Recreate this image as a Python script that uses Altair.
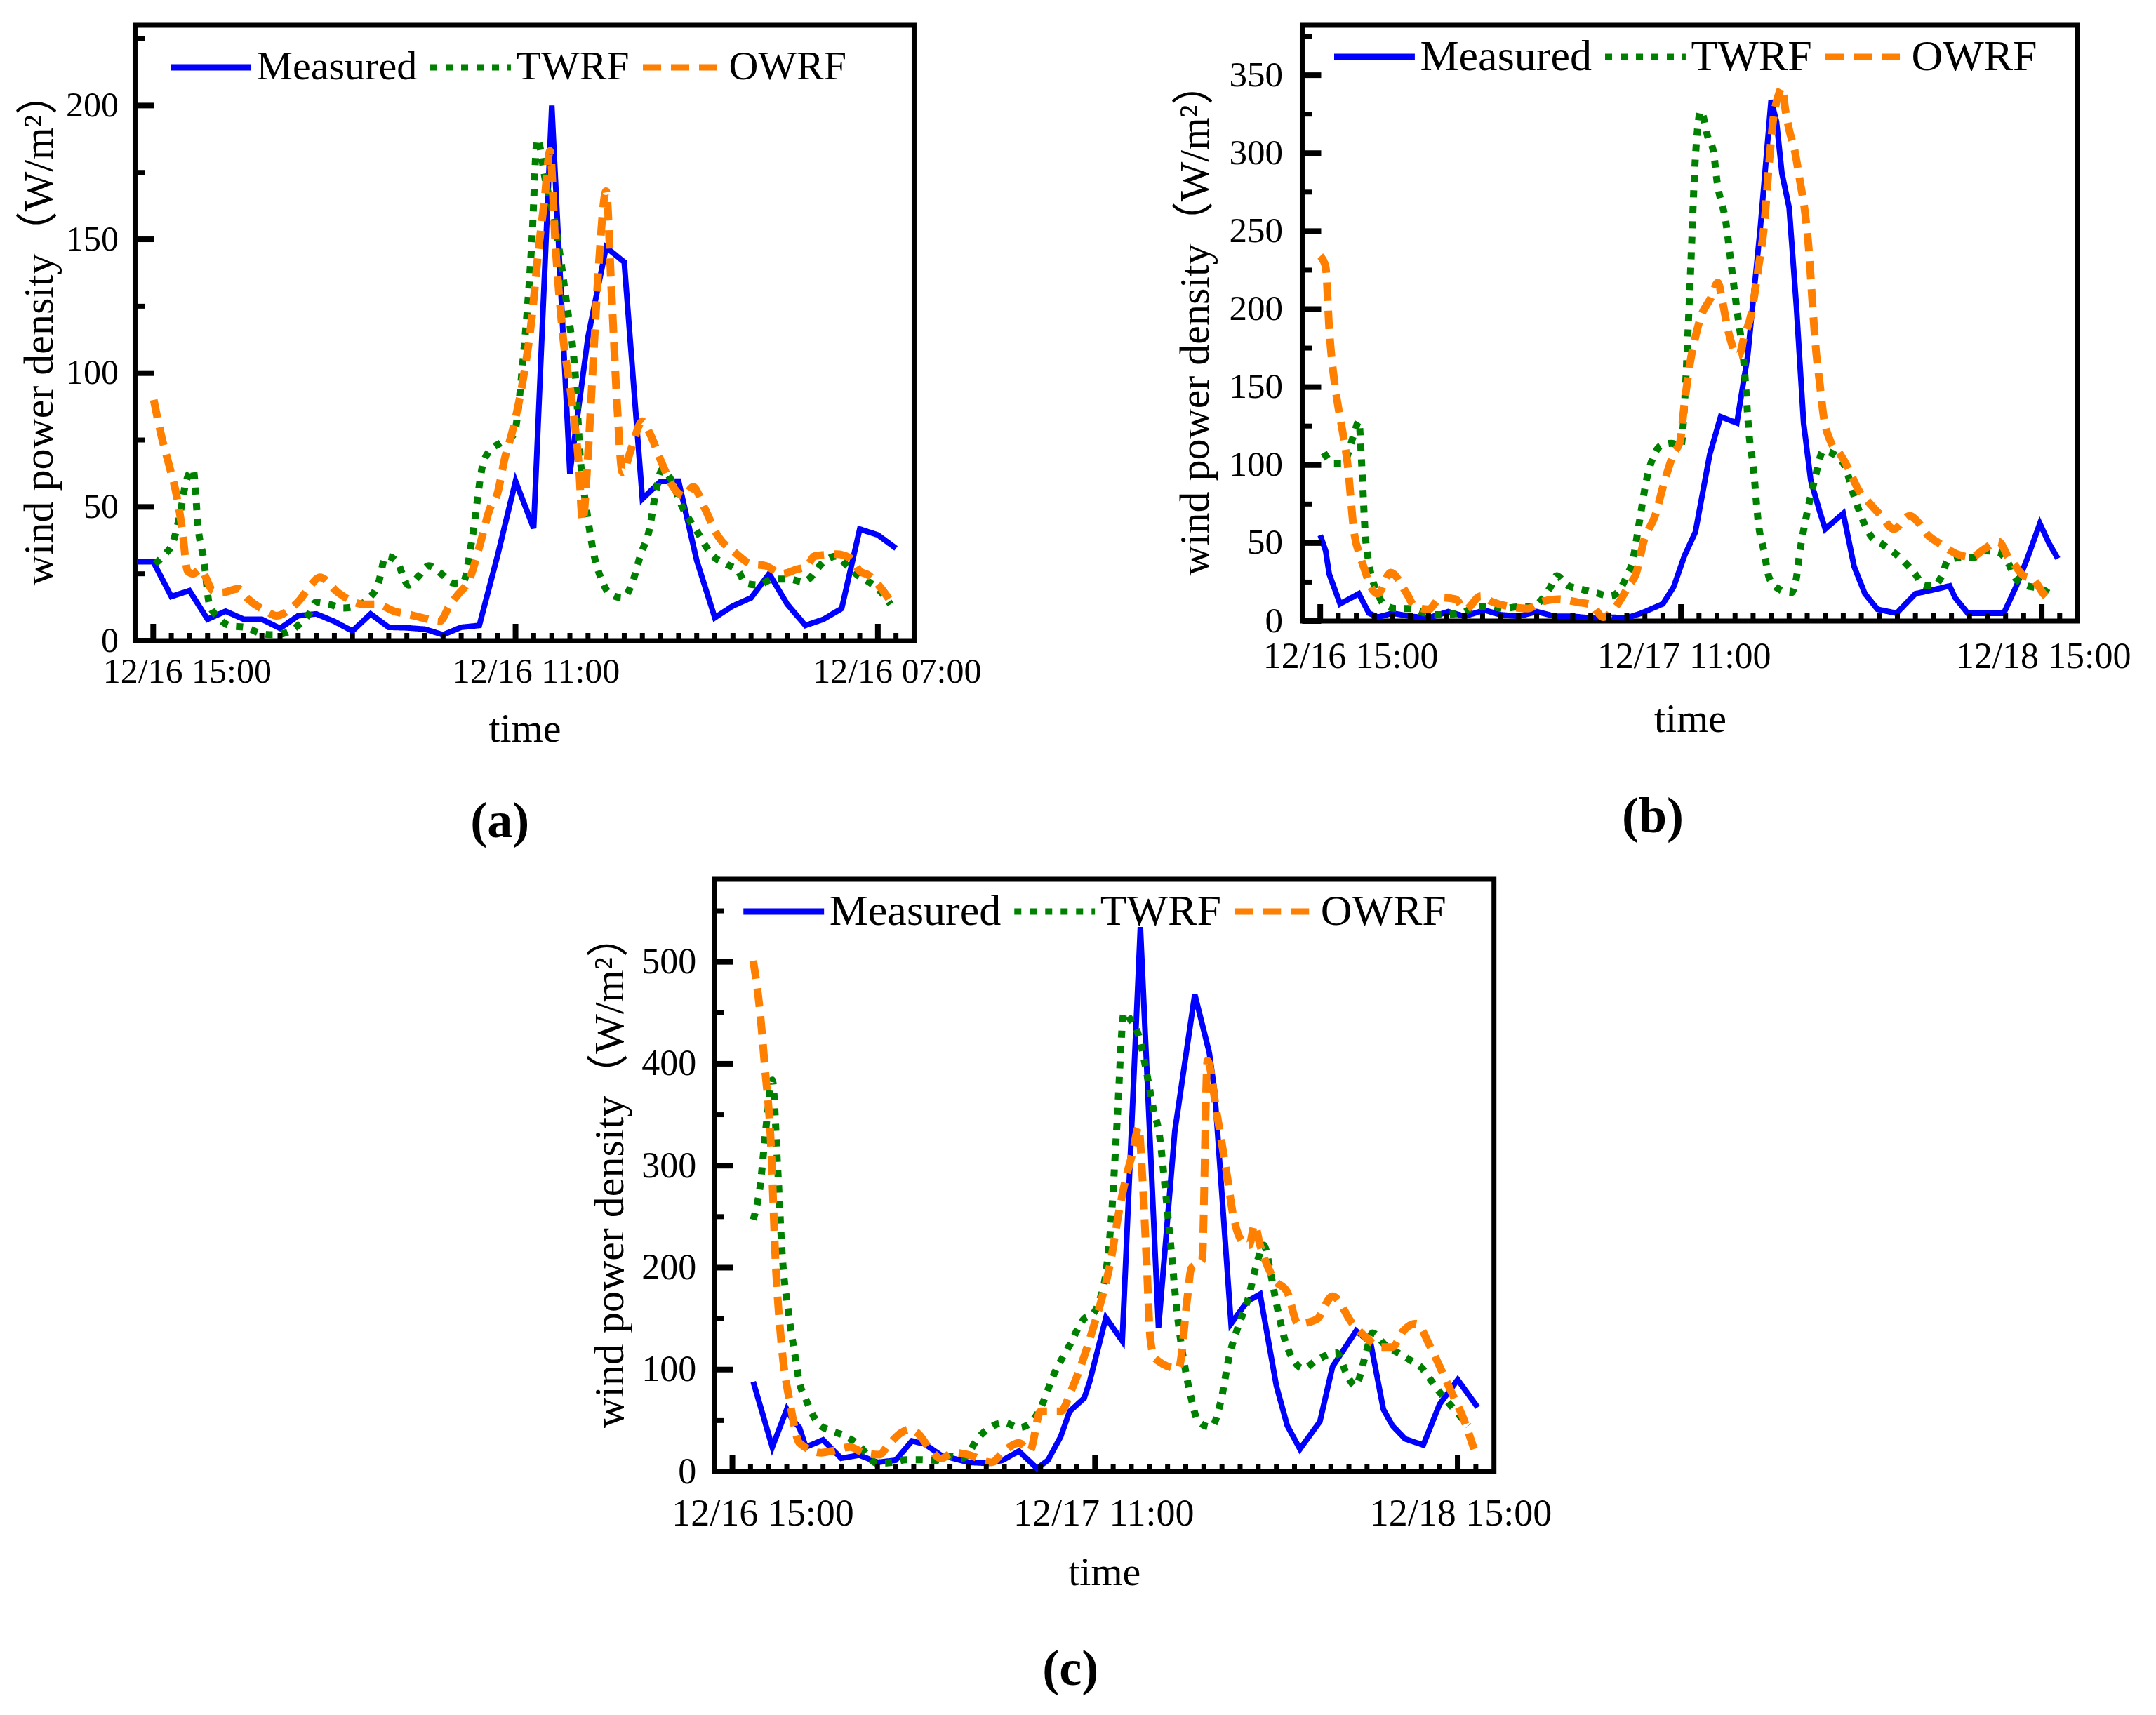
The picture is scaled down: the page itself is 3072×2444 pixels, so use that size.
import altair as alt
import pandas as pd

FONT = "Liberation Serif, Noto Sans CJK SC"
SERIES = ["Measured", "TWRF", "OWRF"]
COLORS = ["#0000FF", "#008000", "#FF7F00"]
DASHES = [[1, 0], [10, 12], [26, 14]]
WIDTHS = [8, 10, 11]
Y_TITLE = "wind power density（W/m²）"

# ---------- x tick labels (index axis, majors at 0 / 20 / 40) ----------
XLAB_A = ["12/16 15:00", "12/16 11:00", "12/16 07:00"]
XLAB_B = ["12/16 15:00", "12/17 11:00", "12/18 15:00"]
XLAB_C = ["12/16 15:00", "12/17 11:00", "12/18 15:00"]
X_MAJOR = [0, 20, 40]
X_MINOR = [i for i in range(1, 42) if i not in X_MAJOR]

# ---------- panel (a) ----------
MEAS_A_T = [-0.9] + list(range(0, 42))
MEAS_A_V = [29.5, 29.5, 16.5, 18.7, 8, 11, 8, 8, 4.6, 9.3, 10, 7.2, 3.6, 10, 5, 4.8,
            4.3, 2.2, 5, 5.7, 31.6, 59.6, 42, 200, 62.5, 113.5, 147, 141.5, 53, 59.5,
            59.6, 30, 8.6, 13, 16, 25, 13.6, 5.7, 8, 12, 41.7, 39.5, 34.5]
TWRF_A_T = [0.1, 0.6, 1.1, 1.5, 1.8, 2.2, 2.5, 2.8, 3.1, 3.6, 4.3, 5.1, 5.85, 6.6, 7.3,
            8.0, 8.6, 9.0, 9.7, 10.5, 11.2, 11.9, 12.4, 12.85, 13.4, 14.1, 14.6, 15.2,
            15.9, 16.6, 17.1, 17.6, 18.2, 18.5, 19.2, 19.9, 20.4, 20.9, 21.2, 21.65,
            22.2, 22.8, 23.3, 23.6, 23.9, 24.3, 24.8, 25.2, 25.9, 26.4, 26.9, 27.4,
            27.7, 28.1, 28.6, 29.2, 30.0, 30.9, 31.6, 32.3, 32.7, 33.4, 34.2, 35.1,
            35.9, 37.1, 37.7, 38.3, 38.9, 39.6, 40.2, 40.7]
TWRF_A_V = [28.7, 32, 37, 48, 59, 64, 41, 30, 13.6, 8.6, 5.5, 5, 2.9, 2.2, 2.9, 5.7,
            10, 14.4, 13.6, 12.2, 13, 15.8, 20.8, 31.6, 30, 20.8, 23.7, 28, 25, 21.5,
            21.8, 38, 66, 70.4, 74, 77, 104, 149, 187.5, 172, 155, 127, 99, 66, 50,
            33, 22, 17.5, 16, 20.8, 32, 42, 54, 64, 60, 50, 41, 31.6, 28.7, 25.9,
            21.5, 20.8, 23, 23, 22, 30, 31.6, 28, 24.4, 21.5, 18, 13.6]
OWRF_A_T = [0.03, 0.47, 0.9, 1.3, 1.6, 1.9, 2.2, 2.6, 3.3, 3.8, 4.7, 5.2, 6.3, 6.8,
            7.5, 8.06, 8.7, 9.2, 10.2, 10.9, 11.6, 12.3, 13.4, 14.0, 15.0, 15.8, 16.4,
            16.8, 17.5, 18.0, 18.6, 19.0, 19.4, 19.8, 20.4, 20.9, 21.25, 21.6, 21.9,
            22.2, 22.6, 23.1, 23.5, 23.7, 24.0, 24.3, 24.6, 25.0, 25.3, 25.6, 25.9,
            26.4, 27.0, 27.4, 28.1, 28.7, 29.3, 29.8, 30.4, 31.2, 32.1, 33.0, 33.8,
            34.7, 35.5, 36.1, 36.5, 37.7, 38.45, 39.0, 39.5, 40.2, 40.8]
OWRF_A_V = [90, 76, 65, 54, 41.7, 26, 25, 26.6, 18.7, 18, 19.4, 15.8, 10.8, 9.3, 11.5,
            15, 20.8, 23.7, 18, 15, 13.6, 13.6, 10.8, 10, 8.3, 7.2, 13.6, 17, 23.7,
            35, 49.6, 55, 68, 77.6, 97, 120.7, 145, 165, 183, 148, 115, 90, 65, 44.5,
            69.7, 106, 141, 168, 130, 89, 63, 72, 82, 77.6, 66, 57.5, 54, 57.5, 50,
            38.8, 33, 28.7, 28, 25, 26.6, 28, 31.6, 32.3, 31, 26, 24.4, 19.4, 13.6]

# ---------- panel (b) ----------
MEAS_B_T = [0, 0.3, 0.5, 1.1, 2.14, 2.7, 3.2, 4.0, 5.0, 6.0, 7.1, 8.0, 9.1, 10.0, 11.0,
            12.0, 13.0, 14.0, 15.0, 16.0, 17.0, 17.8, 19.0, 19.6, 20.2, 20.8, 21.6,
            22.2, 23.1, 23.7, 24.4, 25.0, 25.3, 25.6, 26.0, 26.4, 26.8, 27.2, 27.7,
            28.0, 29.0, 29.6, 30.2, 30.9, 31.96, 33.0, 34.0, 34.9, 35.2, 35.9, 37.9,
            38.6, 39.2, 39.9, 40.4, 40.9]
MEAS_B_V = [55, 45, 30, 11, 17.5, 5, 2.5, 5, 3, 2, 6, 3, 7, 4, 3, 6, 3, 3, 2, 2.5, 2,
            5, 11, 22, 42, 57, 107, 131, 127, 170, 252, 334, 320, 287, 265, 202, 127,
            90, 70, 59, 69, 35, 17.5, 7.5, 5, 17.5, 20, 22.5, 15, 5, 5, 22.5, 40,
            62.5, 50, 40]
TWRF_B_T = [0.2, 0.74, 1.26, 1.85, 2.14, 2.3, 2.5, 2.7, 3.2, 3.5, 4.2, 5.0, 5.7, 6.4,
            7.8, 8.6, 9.4, 10.2, 10.9, 11.75, 12.3, 12.8, 13.1, 13.7, 14.6, 15.3, 16.1,
            16.6, 17.0, 17.3, 17.7, 18.1, 18.55, 18.9, 19.5, 20.0, 20.2, 20.5, 20.8,
            21.1, 21.5, 21.8, 22.0, 22.5, 22.8, 23.1, 23.5, 23.8, 24.0, 24.3, 24.6,
            24.9, 25.5, 26.1, 26.4, 26.6, 26.9, 27.4, 27.9, 28.6, 29.1, 29.6, 30.5,
            31.2, 31.8, 33.0, 33.5, 34.0, 34.5, 34.8, 35.8, 36.3, 36.9, 37.6, 38.2,
            38.5, 39.2, 39.9, 40.6]
TWRF_B_V = [108, 101, 101, 119, 128, 100, 55, 37, 17.5, 11, 8, 8, 5.5, 4, 5, 9, 9.5,
            8, 9, 9, 14, 22.5, 29, 23, 20, 18, 16, 20, 29, 37.5, 64, 91, 107.5, 112.5,
            114, 112, 140, 215, 297, 327, 310, 301, 282, 255, 227, 200, 164, 117, 100,
            62, 45, 27.5, 20, 18, 27.5, 45, 64, 90, 109, 106, 99, 80, 55, 49, 44, 30,
            22.5, 22.5, 30, 39, 41, 41, 45, 44, 36, 28, 22.5, 21, 16]
OWRF_B_T = [0, 0.3, 0.5, 0.8, 1.0, 1.26, 1.5, 1.9, 2.2, 2.4, 2.9, 3.2, 3.9, 4.8, 5.2,
            6.0, 6.7, 7.5, 8.05, 8.9, 9.5, 10.6, 11.5, 12.3, 13.2, 14.3, 15.0, 15.7,
            16.5, 17.1, 17.5, 17.96, 18.55, 19.1, 19.6, 19.95, 20.2, 20.5, 20.8, 21.1,
            21.65, 22.05, 22.3, 22.6, 23.2, 23.5, 23.9, 24.3, 24.6, 24.9, 25.1, 25.4,
            25.6, 25.8, 26.0, 26.3, 26.6, 26.9, 27.1, 27.3, 27.5, 27.7, 27.9, 28.3,
            28.8, 29.3, 29.8, 30.5, 31.1, 31.8, 32.7, 33.1, 33.7, 34.3, 35.4, 36.1,
            36.8, 37.6, 38.2, 38.5, 38.9, 39.6, 40.1, 40.6]
OWRF_B_V = [234, 227, 187, 152, 137, 120, 102, 55, 42, 35, 20, 17.5, 31, 17.5, 10, 7.5,
            15, 14, 7.5, 16, 12.5, 9, 8, 12.5, 14, 12, 10.5, 2.5, 11, 22.5, 30, 52, 67,
            90, 107.5, 115, 140, 165, 182, 195, 207, 217, 205, 187, 170, 182, 197, 227,
            252, 295, 320, 337, 342, 327, 315, 302, 282, 260, 237, 202, 172, 152, 132,
            115, 107.5, 97.5, 85, 75, 67.5, 59, 67.5, 64, 55, 50, 42.5, 41, 46, 51, 40,
            36, 30, 26, 17.5, 12.5]

# ---------- panel (c) ----------
MEAS_C_T = [1.15, 2.2, 3.0, 3.3, 3.7, 4.05, 5.0, 6.0, 7.0, 8.0, 9.0, 9.9, 10.6, 11.5,
            13.0, 14.1, 14.9, 15.8, 16.8, 17.4, 18.1, 18.6, 19.4, 19.7, 20.6, 21.5,
            22.5, 23.5, 24.4, 25.5, 26.3, 26.6, 27.5, 28.4, 29.1, 30.0, 30.6, 31.3,
            32.4, 33.1, 34.4, 35.2, 35.9, 36.4, 37.1, 38.1, 39.0, 40.0, 41.1]
MEAS_C_V = [88, 24, 61, 51, 43, 24, 31, 13, 16, 9, 11, 30, 27, 16, 9, 8, 11, 20, 3, 11,
            34, 59, 72, 88, 151, 128, 534, 141, 334, 468, 411, 372, 145, 167, 174, 84,
            45, 22, 49, 103, 138, 126, 61, 45, 32, 26, 66, 90, 63]
TWRF_C_T = [1.15, 1.5, 1.9, 2.2, 2.5, 2.75, 3.1, 3.46, 3.7, 4.0, 4.74, 5.45, 6.2, 6.9,
            8.0, 8.8, 9.6, 10.4, 11.2, 11.9, 12.7, 13.6, 14.2, 15.0, 15.8, 16.4, 16.9,
            17.8, 18.6, 19.4, 19.9, 20.25, 20.6, 20.9, 21.2, 21.6, 22.0, 22.4, 22.9,
            23.2, 23.55, 23.9, 24.2, 24.5, 24.95, 25.25, 25.7, 26.4, 26.95, 27.4,
            27.85, 28.4, 29.0, 29.3, 29.7, 30.0, 30.6, 31.5, 32.2, 33.3, 33.98, 34.35,
            34.9, 35.3, 36.0, 36.7, 37.4, 38.05, 38.5, 39.0, 40.0, 40.6]
TWRF_C_V = [247, 276, 345, 384, 297, 212, 155, 113, 87, 73, 47, 40, 35, 27, 8, 9, 11.5,
            11.5, 11, 15, 13, 34, 43, 48, 43, 47, 59, 98, 124, 150, 155, 168, 195, 249,
            338, 450, 442, 428, 386, 357, 330, 272, 217, 160, 103, 76, 49, 43.5, 70,
            113, 140, 167, 209, 222, 193, 165, 122, 101, 109, 116.5, 91.5, 84, 113,
            136, 124, 116.5, 109, 101, 90, 78, 57, 45]
OWRF_C_T = [1.15, 1.5, 1.8, 2.1, 2.4, 2.7, 3.2, 3.7, 4.9, 5.45, 6.5, 7.2, 8.1, 8.6, 9.3,
            9.8, 10.2, 10.9, 11.5, 12.2, 13.0, 14.3, 14.9, 15.8, 16.4, 17.0, 18.1,
            18.7, 19.4, 19.9, 20.3, 20.9, 21.3, 21.65, 22.1, 22.4, 22.6, 22.85, 23.05,
            23.3, 24.6, 25.1, 25.3, 25.9, 26.2, 26.7, 27.3, 27.6, 28.1, 28.5, 28.8,
            29.1, 29.9, 30.6, 31.2, 32.2, 33.1, 34.2, 34.8, 35.8, 36.4, 37.0, 37.7,
            38.5, 39.3, 39.9, 40.2, 40.9]
OWRF_C_V = [501, 455, 395, 330, 199, 126, 65, 28, 18.5, 20, 24, 18.5, 16.5, 26, 38,
            41.5, 38, 22, 12.7, 18.5, 16.5, 9, 18.5, 28, 20, 59, 59, 80, 113, 141, 165,
            210, 253, 284, 315, 338, 292, 203, 130, 111, 101, 172, 199, 207, 403, 353,
            288, 253, 226, 222, 242, 222, 188, 176, 145, 149, 172, 145, 134, 122, 122,
            138, 145, 122, 91.5, 68.5, 57, 22]


def series_df(t, v, name):
    return pd.DataFrame({"t": t, "v": v, "series": name})


def panel(data, xlabels, xshift, ymax, ymajor, yminor, w, h, leg, caption, pads, fonts):
    leg_x, leg_y, leg_font = leg
    lab_y, tit_y, lab_x, tit_x, cap_off = pads
    x_font, y_font = fonts
    x_scale = alt.Scale(domain=[-1, 42], nice=False, zero=False)
    y_scale = alt.Scale(domain=[0, ymax], nice=False, zero=False)
    expr = (f"datum.value == 0 ? '{xlabels[0]}' : "
            f"datum.value == 20 ? '{xlabels[1]}' : '{xlabels[2]}'")
    shift = {"condition": [{"test": "datum.value == 0", "value": xshift[0]},
                           {"test": "datum.value == 20", "value": xshift[1]}],
             "value": xshift[2]}
    x_axis = alt.Axis(values=X_MAJOR, labelExpr=expr, title="time", labelFlush=False,
                      labelOffset=shift, labelPadding=lab_x, titlePadding=tit_x,
                      labelFontSize=x_font, titleFontSize=58)
    y_axis = alt.Axis(values=ymajor, title=Y_TITLE, labelPadding=lab_y,
                      titlePadding=tit_y, labelFontSize=y_font, titleFontSize=60,
                      titleY=h / 2 - 6)
    legend = alt.Legend(orient="none", legendX=leg_x, legendY=leg_y, direction="horizontal",
                        title=None, symbolType="stroke", symbolSize=13200,
                        symbolStrokeWidth=9, labelFontSize=leg_font, labelOffset=3,
                        columnPadding=0, padding=0, labelLimit=1000)
    color = alt.Color("series:N", scale=alt.Scale(domain=SERIES, range=COLORS), legend=legend)
    dash = alt.StrokeDash("series:N", scale=alt.Scale(domain=SERIES, range=DASHES), legend=legend)
    x_enc = alt.X("t:Q", scale=x_scale, axis=x_axis)
    y_enc = alt.Y("v:Q", scale=y_scale, axis=y_axis)

    layers = []
    for (t, v), name, sw in zip(data, SERIES, WIDTHS):
        interp = "linear" if name == "Measured" else "monotone"
        layers.append(
            alt.Chart(series_df(t, v, name))
            .mark_line(strokeWidth=sw, interpolate=interp, strokeCap="butt", clip=True)
            .encode(x=x_enc, y=y_enc, color=color, strokeDash=dash)
        )

    # inward ticks drawn from the tick positions
    ymaj = alt.Chart(pd.DataFrame({"v": ymajor})).mark_rule(color="black", strokeWidth=8).encode(
        y=y_enc, x=alt.value(0), x2=alt.value(27))
    ymin = alt.Chart(pd.DataFrame({"v": yminor})).mark_rule(color="black", strokeWidth=7).encode(
        y=y_enc, x=alt.value(0), x2=alt.value(14))
    xmaj = alt.Chart(pd.DataFrame({"t": X_MAJOR})).mark_rule(color="black", strokeWidth=8).encode(
        x=x_enc, y=alt.value(h), y2=alt.value(h - 24))
    xmin = alt.Chart(pd.DataFrame({"t": X_MINOR})).mark_rule(color="black", strokeWidth=7).encode(
        x=x_enc, y=alt.value(h), y2=alt.value(h - 11))

    return alt.layer(*layers, ymaj, ymin, xmaj, xmin).properties(
        width=w, height=h,
        title=alt.TitleParams(caption, orient="bottom", anchor="middle", frame="bounds",
                              offset=cap_off, fontSize=72, font=FONT, fontWeight="bold"),
    )


chart_a = panel([(MEAS_A_T, MEAS_A_V), (TWRF_A_T, TWRF_A_V), (OWRF_A_T, OWRF_A_V)],
                XLAB_A, (48, 29, 27), 230, [0, 50, 100, 150, 200], [25, 75, 125, 175, 225],
                1110, 877, (46, -2, 58), "(a)", (24, 6, 19, 28, 68), (50, 50))
chart_b = panel([(MEAS_B_T, MEAS_B_V), (TWRF_B_T, TWRF_B_V), (OWRF_B_T, OWRF_B_V)],
                XLAB_B, (43, 4, 2), 382, [0, 50, 100, 150, 200, 250, 300, 350],
                [25, 75, 125, 175, 225, 275, 325, 375],
                1105, 849, (41, -17, 62), "(b)", (28, 16, 25, 35, 75), (52, 51))
chart_c = panel([(MEAS_C_T, MEAS_C_V), (TWRF_C_T, TWRF_C_V), (OWRF_C_T, OWRF_C_V)],
                XLAB_C, (43, 12, 4), 581, [0, 100, 200, 300, 400, 500],
                [50, 150, 250, 350, 450, 550],
                1111, 844, (37, -16, 62), "(c)", (26, 13, 33, 28, 74), (54, 52))

top = alt.hconcat(chart_a, chart_b, spacing=268).resolve_scale(
    color="independent", strokeDash="independent")
chart = (
    alt.vconcat(top, chart_c, spacing=22, center=True)
    .resolve_scale(color="independent", strokeDash="independent")
    .properties(padding={"left": 14, "top": 7, "right": 5, "bottom": 5})
    .configure_view(stroke="black", strokeWidth=7)
    .configure_axis(labelFont=FONT, labelColor="black",
                    titleFont=FONT, titleFontWeight="normal", titleColor="black",
                    ticks=False, tickSize=0, domain=False, grid=False, labelLimit=0)
    .configure_legend(labelFont=FONT, labelColor="black")
)

chart.save("out.html", embed_options={"renderer": "svg", "actions": False})
